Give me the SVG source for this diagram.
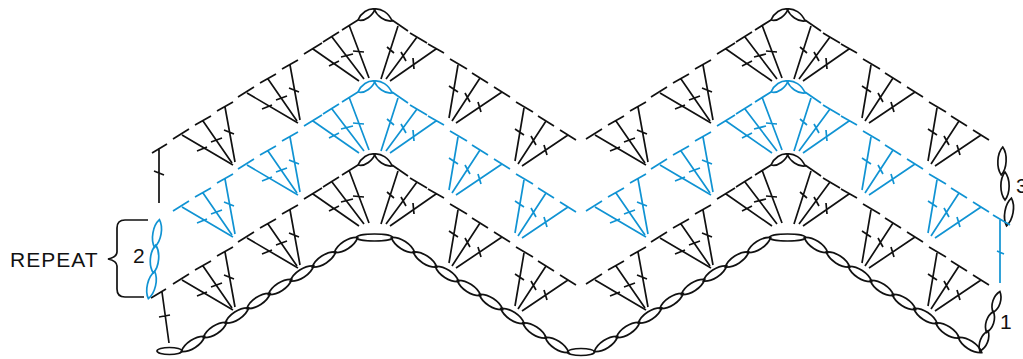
<svg xmlns="http://www.w3.org/2000/svg" width="1023" height="359" viewBox="0 0 1023 359">
<style>
.k{color:#111}
.b{color:#1093d3}
.s{fill:none;stroke:currentColor;stroke-width:1.7;stroke-linecap:butt}
.c{fill:none;stroke:#111;stroke-width:1.7}
.t{font-family:"Liberation Sans",Arial,sans-serif;font-size:21px;fill:#111}
</style>
<defs>
<path id="L" d="M-14 0C-7 -5.500 7 -5.500 14 0C7 5.500 -7 5.500 -14 0Z"/>
<path id="M" d="M-11 0C-5 -5 5 -5 11 0C5 5 -5 5 -11 0Z"/>
<g id="loops" class="s">
<path d="M358 20C361 13 368 8 375 9C373 15 365 22 358 20Z"/>
<path d="M374 9C381 8 389 13 392 21C385 22 377 16 374 9Z"/>
</g>
<g id="fanA" class="s">
<path d="M233 165L182 135M173 139L189 129M197 151L207 147"/>
<path d="M232 163L203 121M195 125L211 116M211 142L222 138"/>
<path d="M235 162L225 107M217 111L233 102M224 130L234 134"/>
</g>
<g id="fanC" class="s">
<path d="M359 81L313 49M304 54L322 43M329 66L339 61"/>
<path d="M364 79L332 37M323 42L339 32M341 57L353 54"/>
<path d="M369 78L349 25M342 30L358 20M353 51L364 52"/>
<path d="M381 79L398 26M392 20L408 31M387 47L394 53"/>
<path d="M386 79L417 37M410 33L427 43M401 52L406 61"/>
<path d="M390 81L436 49M428 44L444 53M413 58L414 69"/>
</g>
<g id="fanD" class="s">
<path d="M449 118L458 65M450 59L467 69M449 86L458 92"/>
<path d="M452 121L480 78M472 73L488 83M465 93L470 102"/>
<path d="M456 123L502 92M494 87L510 97M478 102L481 112"/>
</g>
<g id="half">
<use href="#fanA"/>
<use href="#fanA" x="65" y="-42"/>
<use href="#fanC"/>
<use href="#fanD"/>
<use href="#fanD" x="66" y="43"/>
</g>
<g id="row">
<use href="#half"/>
<use href="#half" x="413"/>
</g>
</defs>

<g id="row-top" class="k"><use href="#row"/><use href="#loops"/><use href="#loops" x="413"/></g>
<g id="row-middle" class="b"><use href="#row" y="72"/><use href="#loops" y="72"/><use href="#loops" x="413" y="72"/></g>
<g id="row-lower" class="k"><use href="#row" y="145"/><use href="#loops" y="145"/><use href="#loops" x="413" y="145"/></g>

<g id="foundation-chain" class="c">
<ellipse cx="169.500" cy="351" rx="12.500" ry="3.500"/>
<ellipse cx="374.500" cy="237.500" rx="18" ry="3.500"/>
<ellipse cx="581" cy="352" rx="13.500" ry="3.500"/>
<ellipse cx="787.500" cy="237.500" rx="18" ry="3.500"/>
<g id="up">
<use href="#L" transform="translate(193 344) rotate(-33)"/>
<use href="#L" transform="translate(215 330) rotate(-33)"/>
<use href="#L" transform="translate(237 315.500) rotate(-33)"/>
<use href="#L" transform="translate(258.500 301) rotate(-33)"/>
<use href="#L" transform="translate(280 287) rotate(-33)"/>
<use href="#L" transform="translate(302 273.500) rotate(-33)"/>
<use href="#L" transform="translate(324 259.500) rotate(-33)"/>
<use href="#L" transform="translate(346 245) rotate(-33)"/>
</g>
<g id="down">
<use href="#L" transform="translate(403 245) rotate(33)"/>
<use href="#L" transform="translate(425 259.500) rotate(33)"/>
<use href="#L" transform="translate(447 274) rotate(33)"/>
<use href="#L" transform="translate(469 288) rotate(33)"/>
<use href="#L" transform="translate(491 302) rotate(33)"/>
<use href="#L" transform="translate(512.500 316) rotate(33)"/>
<use href="#L" transform="translate(534.500 330.500) rotate(33)"/>
<use href="#L" transform="translate(557 345) rotate(33)"/>
</g>
<use href="#up" x="413"/>
<use href="#down" x="413"/>
</g>

<g id="left-end">
<g class="s k">
<path d="M159 148L159 203M152 153L167 144M154 171L164 175"/>
<path d="M162 292L169 343M151 298L166 289M159 317L170 315"/>
</g>
<g class="s b">
<use href="#L" transform="translate(157 233.500) rotate(-80)"/>
<use href="#L" transform="translate(154.500 259) rotate(-85)"/>
<use href="#L" transform="translate(151.500 285) rotate(-77)"/>
</g>
</g>

<g id="right-end">
<g class="c">
<use href="#M" transform="translate(984 341) rotate(-68)"/>
<use href="#M" transform="translate(990 322) rotate(-72)"/>
<use href="#M" transform="translate(996.500 302) rotate(-72)"/>
<use href="#L" transform="translate(1002 161) rotate(-87)"/>
<use href="#L" transform="translate(1005 186) rotate(-90)"/>
<use href="#L" transform="translate(1009 212) rotate(-80)"/>
</g>
<path class="s b" d="M1000 220L1000 283M993 215L1010 225M997 251L1004 254"/>
</g>

<g id="repeat-bracket">
<path class="c" d="M148 220H125Q117 220 117 228V252Q117 257 108 259Q117 261 117 266V289Q117 297 125 297H144"/>
</g>

<g id="labels">
<text class="t" x="10" y="267" letter-spacing="1">REPEAT</text>
<text class="t" x="133" y="263">2</text>
<text class="t" x="1000" y="329">1</text>
<text class="t" x="1016" y="193">3</text>
</g>
</svg>
